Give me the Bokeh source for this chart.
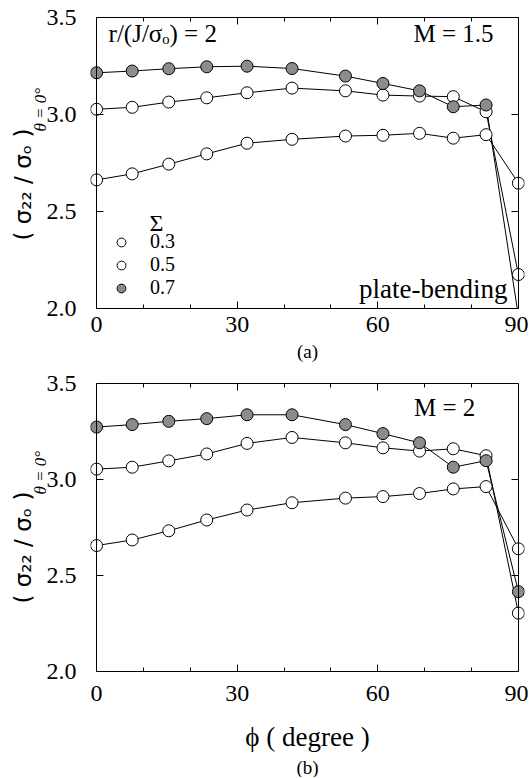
import numpy as np
from bokeh.plotting import figure
from bokeh.models import (Range1d, FixedTicker, LinearAxis, Label, Legend, LegendItem, Title,
                          CustomJSTickFormatter, NumeralTickFormatter)
from bokeh.layouts import column
from bokeh.embed import file_html
from bokeh.resources import INLINE

# ---------------- data ----------------
phi = [0, 7.6, 15.4, 23.5, 32.1, 41.7, 53.1, 61.1, 68.9, 76.1, 83.1, 90]
sigma_levels = ["0.3", "0.5", "0.7"]

# (a) M = 1.5
a_s03 = [2.663, 2.694, 2.744, 2.797, 2.852, 2.872, 2.889, 2.893, 2.903, 2.878, 2.896, 2.646]
a_s05 = [3.027, 3.037, 3.064, 3.086, 3.112, 3.136, 3.122, 3.100, 3.095, 3.092, 3.014, 2.175]
a_s07 = [3.215, 3.224, 3.236, 3.246, 3.249, 3.237, 3.198, 3.160, 3.122, 3.040, 3.049, 1.960]

# (b) M = 2
b_s03 = [2.656, 2.685, 2.733, 2.789, 2.841, 2.879, 2.903, 2.911, 2.927, 2.951, 2.963, 2.639]
b_s05 = [3.054, 3.064, 3.097, 3.133, 3.188, 3.219, 3.191, 3.165, 3.148, 3.160, 3.124, 2.304]
b_s07 = [3.273, 3.286, 3.303, 3.317, 3.337, 3.337, 3.286, 3.239, 3.191, 3.064, 3.098, 2.416]

x_lo, x_hi = 0, 90
y_lo, y_hi = 2.0, 3.5
x_major = [0, 30, 60, 90]
x_minor = [10, 20, 40, 50, 70, 80]
y_major = [2.0, 2.5, 3.0, 3.5]

fills = {"0.3": "white", "0.5": "white", "0.7": "#8c8c8c"}
SERIF = "Liberation Serif"
PAD = 1.3  # small x padding (degrees) so edge markers are not clipped


def tick_style(ax):
    ax.major_tick_line_color = "black"
    ax.minor_tick_line_color = "black"
    ax.major_tick_in = 7
    ax.major_tick_out = 0
    ax.minor_tick_in = 4
    ax.minor_tick_out = 0


def no_labels(ax):
    ax.formatter = CustomJSTickFormatter(code="return ''")
    ax.major_label_text_font_size = "0px"
    ax.major_label_standoff = 0


def labels(ax, standoff):
    ax.major_label_text_font = SERIF
    ax.major_label_text_font_size = "24px"
    ax.major_label_text_color = "black"
    ax.major_label_standoff = standoff


def make_panel(height, mt, mb, s03, s05, s07, m_text, m_x, m_y, xstand, with_legend,
               xlabel, tag, tag_standoff):
    p = figure(width=528, height=height,
               x_range=Range1d(x_lo - PAD, x_hi + PAD), y_range=Range1d(y_lo, y_hi),
               output_backend="svg", toolbar_location=None,
               x_axis_type=None, y_axis_type=None,
               min_border_left=90, min_border_right=4, min_border_top=mt, min_border_bottom=mb)
    p.outline_line_color = None
    p.background_fill_color = "white"
    p.border_fill_color = "white"

    # bottom axis: line, ticks and labels limited to 0..90
    xb = LinearAxis(ticker=FixedTicker(ticks=x_major, minor_ticks=x_minor), bounds=(x_lo, x_hi))
    xb.axis_line_color = "black"
    tick_style(xb)
    labels(xb, xstand)
    if xlabel:
        xb.axis_label = xlabel
        xb.axis_label_text_font = SERIF
        xb.axis_label_text_font_style = "normal"
        xb.axis_label_text_font_size = "27px"
        xb.axis_label_text_color = "black"
        xb.axis_label_standoff = 18
    p.add_layout(xb, "below")
    p.add_layout(Title(text=tag, align="center", standoff=tag_standoff, text_font=SERIF,
                       text_font_style="normal", text_font_size="19px",
                       text_color="black"), "below")

    # top axis: line and inward ticks only
    xt = LinearAxis(ticker=FixedTicker(ticks=x_major, minor_ticks=x_minor), bounds=(x_lo, x_hi))
    xt.axis_line_color = "black"
    tick_style(xt)
    no_labels(xt)
    p.add_layout(xt, "above")

    # left: tick labels only (at frame edge)
    yl = LinearAxis(ticker=FixedTicker(ticks=y_major, minor_ticks=[]),
                    formatter=NumeralTickFormatter(format="0.0"))
    yl.axis_line_color = None
    yl.major_tick_line_color = None
    yl.minor_tick_line_color = None
    labels(yl, 8)
    p.add_layout(yl, "left")
    # y title: subscript part (closer to the frame) and main part
    p.add_layout(Title(text="θ = 0°", align="left", offset=177, standoff=-13,
                       text_font=SERIF, text_font_style="italic", text_font_size="17px",
                       text_color="black"), "left")
    p.add_layout(Title(text="( σ₂₂ / σₒ )", align="left", offset=68, standoff=0,
                       text_font="DejaVu Sans", text_font_style="normal",
                       text_font_size="23px", text_color="black"), "left")
    # left box line with inward ticks at phi = 0
    yl2 = LinearAxis(ticker=FixedTicker(ticks=y_major, minor_ticks=[]), fixed_location=x_lo)
    yl2.axis_line_color = "black"
    tick_style(yl2)
    no_labels(yl2)
    p.add_layout(yl2, "left")

    # right box line with inward ticks at phi = 90
    yr = LinearAxis(ticker=FixedTicker(ticks=y_major, minor_ticks=[]), fixed_location=x_hi)
    yr.axis_line_color = "black"
    tick_style(yr)
    no_labels(yr)
    p.add_layout(yr, "right")

    series = {"0.3": s03, "0.5": s05, "0.7": s07}
    for lev in sigma_levels:
        p.line(phi, series[lev], line_color="black", line_width=1)
    scat = {}
    for lev in sigma_levels:
        scat[lev] = p.scatter(phi, series[lev], marker="circle", size=12,
                              fill_color=fills[lev], line_color="black", line_width=1)

    p.add_layout(Label(x=m_x, y=m_y, text=m_text, text_align="right", text_baseline="middle",
                       text_font=SERIF, text_font_size="25px", text_color="black"))

    if with_legend:
        items = [LegendItem(label=lev, renderers=[scat[lev]]) for lev in sigma_levels]
        leg = Legend(items=items, location=(20, 9), glyph_width=22, glyph_height=22,
                     label_standoff=18, spacing=0, padding=0, margin=0,
                     border_line_color=None, background_fill_alpha=0,
                     label_text_font=SERIF, label_text_font_size="20px",
                     label_text_color="black", label_height=22)
        p.add_layout(leg)
    return p


p1 = make_panel(366, 17, 57, a_s03, a_s05, a_s07, "M = 1.5", 84.7, 3.418, 8, True, None,
                "(a)", 9)
p1.add_layout(Label(x=2.56, y=3.418, text="r/(J/σₒ) = 2", text_align="left", text_baseline="middle",
                    text_font=SERIF, text_font_size="25px", text_color="black"))
p1.add_layout(Label(x=12.8, y=2.442, text="Σ", text_align="center", text_baseline="middle",
                    text_font=SERIF, text_font_size="24px", text_color="black"))
p1.add_layout(Label(x=87.65, y=2.098, text="plate-bending", text_align="right", text_baseline="middle",
                    text_font=SERIF, text_font_size="27px", text_color="black"))

p2 = make_panel(411, 17, 103, b_s03, b_s05, b_s07, "M = 2", 80.8, 3.376, 14, False,
                "ϕ ( degree )", "(b)", 0)

layout = column(p1, p2, spacing=0)
open("out.html", "w").write(file_html(layout, INLINE))
